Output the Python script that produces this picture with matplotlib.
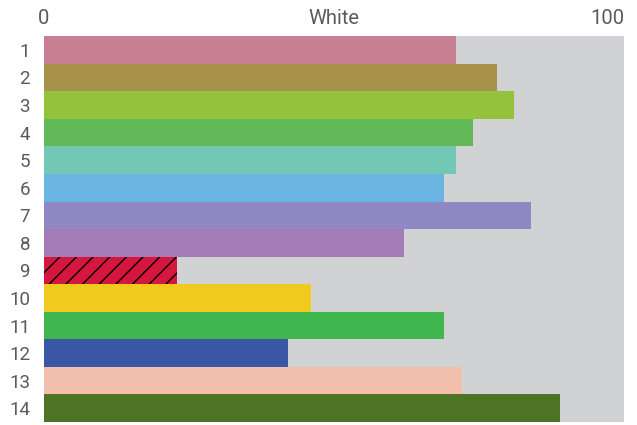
import matplotlib
matplotlib.use("Agg")
import matplotlib.pyplot as plt

plt.rcParams['font.family'] = ['Roboto', 'DejaVu Sans']
plt.rcParams['hatch.linewidth'] = 1.0

# data
rows = [str(i) for i in range(1, 15)]
values = [71, 78, 81, 74, 71, 69, 84, 62, 23, 46, 69, 42, 72, 89]
colors = ['#c97f92', '#a8924a', '#93c23b', '#63b958', '#72c8b4', '#6ab4e2',
          '#8f88c2', '#a27bb7', '#d5163f', '#f0ca1e', '#40b74e', '#3a57a5',
          '#f3bfad', '#4e7324']
hatched = [9]
top_ticks = [0, 50, 100]
top_labels = ['0', 'White', '100']

fig = plt.figure(figsize=(6.37, 4.25), dpi=100)
ax = fig.add_axes([0.069, 0.007, 0.911, 0.908])
ax.set_facecolor('#d1d2d4')

ypos = list(range(len(rows)))
bars = ax.barh(ypos, values, height=1.0, color=colors, linewidth=0)
for b, r in zip(bars, rows):
    if int(r) in hatched:
        b.set_hatch('//')
        b.set_edgecolor('black')
        b.set_linewidth(0)

ax.set_xlim(0, 100)
ax.set_ylim(len(rows) - 0.5, -0.5)
ax.set_yticks(ypos)
ax.set_yticklabels(rows)
ax.xaxis.tick_top()
ax.set_xticks(top_ticks)
ax.set_xticklabels(top_labels)
ax.get_xticklabels()[-1].set_horizontalalignment('right')
ax.tick_params(axis='x', length=0, pad=6, labelsize=14.5, colors='#5a5a5a')
ax.tick_params(axis='y', length=0, pad=10, labelsize=13.5, colors='#5a5a5a')
for s in ax.spines.values():
    s.set_visible(False)

fig.savefig('out.png', dpi=100)
